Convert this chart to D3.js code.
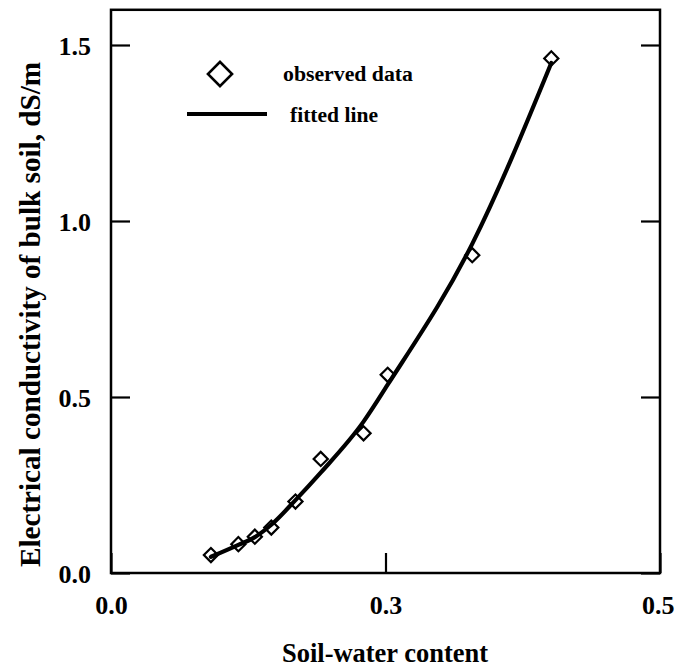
<!DOCTYPE html>
<html>
<head>
<meta charset="utf-8">
<script src="https://cdn.jsdelivr.net/npm/d3@7/dist/d3.min.js"></script>
<style>
  html, body { margin: 0; padding: 0; background: #fff; }
  svg { display: block; }
  text { font-family: "Liberation Serif", "Times New Roman", serif; font-weight: bold; fill: #000; }
</style>
</head>
<body>
<svg id="chart" width="675" height="667"></svg>
<script>
// ---- data ----
const waterContent = [0.091, 0.116, 0.131, 0.146, 0.168, 0.191, 0.230, 0.252, 0.329, 0.401];
const observedEC   = [0.051, 0.082, 0.103, 0.129, 0.203, 0.324, 0.397, 0.563, 0.903, 1.462];
const fittedEC     = [0.046, 0.080, 0.102, 0.137, 0.207, 0.285, 0.430, 0.535, 0.935, 1.449];
const xTicks = [0, 0.25, 0.5];
const xTickLabels = ["0.0", "0.3", "0.5"];
const yTicks = [0, 0.5, 1.0, 1.5];
const yTickLabels = ["0.0", "0.5", "1.0", "1.5"];
const legendLabels = ["observed data", "fitted line"];
const xTitle = "Soil-water content";
const yTitle = "Electrical conductivity of bulk soil, dS/m";

// ---- layout ----
const svg = d3.select("#chart");
const L = 111, R = 660, T = 9.8, B = 573;
const x = d3.scaleLinear().domain([0, 0.5]).range([L, R]);
const y = d3.scaleLinear().domain([0, 1.6]).range([B, T]);

// frame
svg.append("rect")
  .attr("x", L).attr("y", T).attr("width", R - L).attr("height", B - T)
  .attr("fill", "none").attr("stroke", "#000").attr("stroke-width", 2.5);

// left axis
const gL = svg.append("g").attr("transform", `translate(${L},0)`)
  .call(d3.axisLeft(y).tickValues(yTicks).tickSizeInner(-19).tickSizeOuter(0)
    .tickPadding(20).tickFormat((d, i) => yTickLabels[i]));
gL.select(".domain").remove();
gL.selectAll(".tick line").attr("stroke", "#000").attr("stroke-width", 2.2);
gL.selectAll(".tick text").attr("font-size", 26).attr("font-family", null).attr("dy", "0.35em");

// right axis
const gR = svg.append("g").attr("transform", `translate(${R},0)`)
  .call(d3.axisRight(y).tickValues(yTicks).tickSizeInner(-19).tickSizeOuter(0).tickFormat(""));
gR.select(".domain").remove();
gR.selectAll(".tick line").attr("stroke", "#000").attr("stroke-width", 2.2);

// bottom axis
const gB = svg.append("g").attr("transform", `translate(0,${B})`)
  .call(d3.axisBottom(x).tickValues(xTicks).tickSizeInner(-20).tickSizeOuter(0)
    .tickFormat((d, i) => xTickLabels[i]));
gB.select(".domain").remove();
gB.selectAll(".tick line").attr("stroke", "#000").attr("stroke-width", 2.2);
gB.selectAll(".tick text").attr("font-size", 26).attr("font-family", null)
  .attr("y", 41).attr("dy", 0);
// keep the last label inside the page
gB.selectAll(".tick text").filter((d, i, n) => i === n.length - 1)
  .attr("text-anchor", "end").attr("x", 14);

// fitted line
const pts = waterContent.map((w, i) => ({ w, obs: observedEC[i], fit: fittedEC[i] }));
svg.append("path").datum(pts)
  .attr("fill", "none").attr("stroke", "#000").attr("stroke-width", 4.2)
  .attr("stroke-linejoin", "round").attr("stroke-linecap", "round")
  .attr("d", d3.line().x(d => x(d.w)).y(d => y(d.fit)).curve(d3.curveMonotoneX));

// observed diamonds
const diamond = d3.symbol().type(d3.symbolSquare).size(100);
svg.append("g").selectAll("path").data(pts).join("path")
  .attr("d", diamond)
  .attr("transform", d => `translate(${x(d.w)},${y(d.obs)}) rotate(45)`)
  .attr("fill", "none").attr("stroke", "#000").attr("stroke-width", 2.2);

// legend
const leg = svg.append("g");
leg.append("path").attr("d", d3.symbol().type(d3.symbolSquare).size(290))
  .attr("transform", "translate(220,74) rotate(45)")
  .attr("fill", "none").attr("stroke", "#000").attr("stroke-width", 2.6);
leg.append("text").attr("x", 283).attr("y", 81).attr("font-size", 20)
  .attr("textLength", 130).attr("lengthAdjust", "spacingAndGlyphs").text(legendLabels[0]);
leg.append("line").attr("x1", 187).attr("x2", 267).attr("y1", 114).attr("y2", 114)
  .attr("stroke", "#000").attr("stroke-width", 4.2);
leg.append("text").attr("x", 290).attr("y", 122).attr("font-size", 20)
  .attr("textLength", 88).attr("lengthAdjust", "spacingAndGlyphs").text(legendLabels[1]);

// axis titles
svg.append("text").attr("x", 282).attr("y", 662).attr("font-size", 28)
  .attr("textLength", 206).attr("lengthAdjust", "spacingAndGlyphs").text(xTitle);
svg.append("text").attr("transform", "translate(40,567) rotate(-90)")
  .attr("x", 0).attr("y", 0).attr("font-size", 29)
  .attr("textLength", 505).attr("lengthAdjust", "spacingAndGlyphs").text(yTitle);
</script>
</body>
</html>
